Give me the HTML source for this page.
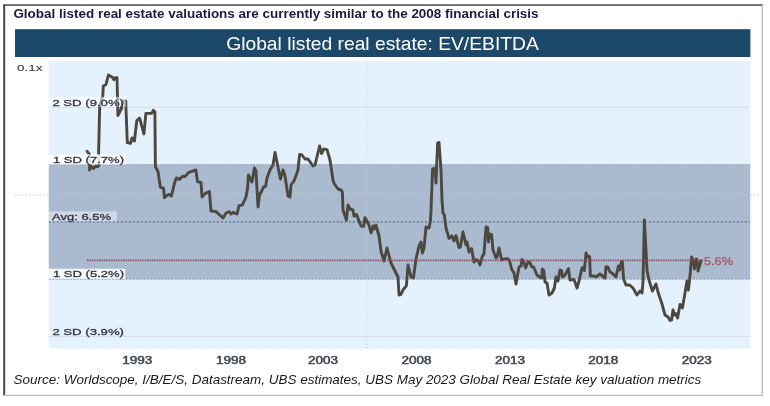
<!DOCTYPE html>
<html><head><meta charset="utf-8"><title>Global listed real estate: EV/EBITDA</title>
<style>
html,body{margin:0;padding:0;background:#fff;}
body{width:770px;height:406px;overflow:hidden;}
svg{display:block;}
text{font-family:"Liberation Sans",Arial,sans-serif;}
.lbl{font-size:9.7px;fill:#33343f;stroke:#33343f;stroke-width:0.3px;}
.yr{font-size:10px;fill:#454853;stroke:#454853;stroke-width:0.5px;}
</style></head><body>
<svg width="770" height="406" viewBox="0 0 770 406">
<rect width="770" height="406" fill="#fff"/>
<!-- frame -->
<rect x="3.5" y="4.3" width="759.5" height="1.6" fill="#555"/>
<rect x="3.2" y="4.3" width="2" height="391.7" fill="#4a4a4a"/>
<rect x="761.6" y="5" width="1.3" height="391" fill="#bcbcbc"/>
<rect x="3.5" y="394.7" width="759.4" height="1.3" fill="#bcbcbc"/>
<!-- title -->
<text x="13.4" y="17.9" font-size="13.3" font-weight="bold" fill="#1b1b3f" textLength="525.2" lengthAdjust="spacingAndGlyphs">Global listed real estate valuations are currently similar to the 2008 financial crisis</text>
<!-- banner -->
<rect x="15" y="29.2" width="735.4" height="27.8" fill="#1c4869"/>
<text x="226.2" y="49.9" font-size="18.2" fill="#fff" textLength="312.6" lengthAdjust="spacingAndGlyphs">Global listed real estate: EV/EBITDA</text>
<!-- plot -->
<rect x="48.8" y="61.2" width="701.4" height="287.4" fill="#e6f1fe"/>
<rect x="48.8" y="164.6" width="701.4" height="114.6" fill="#aabbcf"/>
<line x1="48.8" x2="749.8" y1="107.2" y2="107.2" stroke="#d0ddec" stroke-width="1"/>
<line x1="48.8" x2="749.8" y1="336.4" y2="336.4" stroke="#d0ddec" stroke-width="1"/>
<line x1="48.8" x2="750.2" y1="164.7" y2="164.7" stroke="#90a4bd" stroke-width="1" stroke-dasharray="2 1"/>
<line x1="48.8" x2="749.8" y1="279.2" y2="279.2" stroke="#8fa3bb" stroke-width="1" stroke-dasharray="2 1.5"/>
<!-- crosshair -->
<line x1="15" x2="760" y1="195" y2="195" stroke="#c2c6cc" stroke-width="1" stroke-dasharray="1.5 2"/>
<line x1="366.6" x2="366.6" y1="60" y2="350" stroke="#c2c6cc" stroke-width="1" stroke-dasharray="1.5 2" opacity="0.7"/>
<!-- avg -->
<line x1="48.8" x2="749.8" y1="221.9" y2="221.9" stroke="#5d6b7e" stroke-width="1.1" stroke-dasharray="2 2"/>
<!-- series -->
<polyline fill="none" stroke="#4c473f" stroke-width="2.9" stroke-linejoin="round" stroke-linecap="round" points="87.1,151.4 89.5,154.2 89.8,162 89.5,170 91,166 93.4,168.4 95.8,166 97.7,166.8 98.9,165.2 98.6,152.8 99.7,106.3 102.8,96 103.3,86 106,84.4 108.4,75 112.3,77.3 113.9,79.7 115,77.7 117,77.7 117.9,115.5 121.8,108 122.6,101 125.7,101 127.3,142.6 130.5,143.4 132,137.9 134.4,141 136.8,120.5 139.6,118.1 143.9,133.9 145.9,113.4 151.8,113.4 153.3,110.3 154.9,111.8 155.4,166.8 158,171.5 160.4,187.3 163.6,188.1 164.4,197.6 166,196 169.1,194.4 171.5,196 174.6,182.6 176.5,177.9 179.4,179.4 182.5,176.3 184.9,176.6 188.8,172.3 195.9,170 197.5,181.8 201,182.4 202,197 205,193.6 209.4,191.6 211,211 216,211.6 223,218 226,213 229,211.6 231,214 233,212.4 237,214 239,205.6 242.4,205 246,197 247.6,188 248.4,175 252,182 254.4,168 256,171 258,207 259.6,195 263.6,187 265.6,186.4 267,178 270,170 273,165 275,152.4 278,167 280.4,179 283,170 285,176 288,196 290,197 291,185 294,181 298,170 299.6,154.4 302,155 305,159 308,159 313,166 315,165 319.6,146 321.6,153.6 323.6,149 327,149.6 330,160 333,180 334.4,184 338,189 341,190 342.4,192 343,210 346.4,220 348,205 350,209 353,210 354,216 356.4,214.4 361,226 363.6,226.4 365,217.6 369,225 371,233 373,226 374,229 376,225 379,236 381,251 384,261 387,248 391,263 394,269 398,277 399,295 401,294.4 403,290 406.4,285.6 408,265 411,277 413.4,278 416,259 419,246 421,242 422.4,253 424,248 426,227 429,228 430.4,221 431,211 432.6,169 435,168.4 436,183 437.6,143 439,142.4 441,170 442,200 443,213 444.4,215 446,228 449,238.4 452,236 454,241 456,235.6 459,247.6 460.4,247 463,232 466,245 467,242 469,252 471.6,248.6 474,262 476.4,259.6 478.4,261 480,265 482.4,256 484,254 486,227 487.6,227.4 488.4,242 489.6,234 491.6,234.6 493,250 496,258 497,257 499,248 501.6,260 504,259 508,258.6 509.6,261 511.6,269 514,273 516,284 519,267 521,266 522,259.4 524,263 525.6,268 528,262 530,262.6 531.6,266.6 533.6,267 537,275 540,277.4 541.6,278 542.4,269 543.6,270 545,282 547,283 549,295 552,293 554.4,288 556,277 558,281 560,270 561.6,270.6 562.4,277 565,275 568.4,268.6 570,280 574,279.4 577,288 579,281 582,268 583.6,267 584.4,270.6 586,253 588,257 589.6,256.6 590.4,276 594,276 596,277 600,274 605,278 606,266.6 608,267.4 610,272 612,273 616,277 618.4,266 619.6,270 621.6,261.4 622.4,262 623.6,279 626,285 629.6,285 633,288 637,295 640,291 642,293 643,282 644.4,220 646,250 647,270 649,280 652.4,291 656,284 658,292 662,304 665,315 668,317 670,320.4 671.6,320 673,310 674.4,315 676,313.6 677.6,318 680,304.4 682.4,308 685,293 687,281 688.4,290 690,276 691.6,257 693.6,262 694.4,269 696,259 697,259.6 698,271 701,261"/>
<!-- red line -->
<line x1="87" x2="703" y1="260.4" y2="260.4" stroke="#8f4853" stroke-width="1.6" stroke-dasharray="1.6 0.8" opacity="0.9"/>
<text x="704" y="265.4" font-size="10" fill="#b0505f" stroke="#b0505f" stroke-width="0.25" textLength="29" lengthAdjust="spacingAndGlyphs">5.6%</text>
<!-- labels -->
<text class="lbl" style="stroke-width:0.1px;fill:#40424c" x="17" y="70.9" textLength="25.5" lengthAdjust="spacingAndGlyphs">0.1x</text>
<rect x="48.8" y="96.8" width="77" height="10" fill="#fff" opacity="0.55"/>
<text class="lbl" x="52.4" y="105.6" textLength="71.6" lengthAdjust="spacingAndGlyphs">2 SD (9.0%)</text>
<rect x="48.8" y="154.4" width="76.4" height="10" fill="#fff" opacity="0.85"/>
<text class="lbl" x="53" y="162.6" textLength="71" lengthAdjust="spacingAndGlyphs">1 SD (7.7%)</text>
<rect x="48.8" y="211.4" width="68" height="10" fill="#fff" opacity="0.45"/>
<text class="lbl" x="52" y="219.8" textLength="59" lengthAdjust="spacingAndGlyphs">Avg: 6.5%</text>
<rect x="48.8" y="268.8" width="76.4" height="10" fill="#fff" opacity="0.9"/>
<text class="lbl" x="53" y="277.2" textLength="71" lengthAdjust="spacingAndGlyphs">1 SD (5.2%)</text>
<text class="lbl" x="52.4" y="334.6" textLength="71.6" lengthAdjust="spacingAndGlyphs">2 SD (3.9%)</text>
<!-- x axis -->
<rect x="62.2" y="348.8" width="1" height="2.6" fill="#ebeef2"/><rect x="80.9" y="348.8" width="1" height="2.6" fill="#ebeef2"/><rect x="99.5" y="348.8" width="1" height="2.6" fill="#ebeef2"/><rect x="118.2" y="348.8" width="1" height="2.6" fill="#ebeef2"/><rect x="136.8" y="348.8" width="1" height="2.6" fill="#ebeef2"/><rect x="155.5" y="348.8" width="1" height="2.6" fill="#ebeef2"/><rect x="174.1" y="348.8" width="1" height="2.6" fill="#ebeef2"/><rect x="192.8" y="348.8" width="1" height="2.6" fill="#ebeef2"/><rect x="211.4" y="348.8" width="1" height="2.6" fill="#ebeef2"/><rect x="230.1" y="348.8" width="1" height="2.6" fill="#ebeef2"/><rect x="248.7" y="348.8" width="1" height="2.6" fill="#ebeef2"/><rect x="267.4" y="348.8" width="1" height="2.6" fill="#ebeef2"/><rect x="286.0" y="348.8" width="1" height="2.6" fill="#ebeef2"/><rect x="304.6" y="348.8" width="1" height="2.6" fill="#ebeef2"/><rect x="323.3" y="348.8" width="1" height="2.6" fill="#ebeef2"/><rect x="341.9" y="348.8" width="1" height="2.6" fill="#ebeef2"/><rect x="360.6" y="348.8" width="1" height="2.6" fill="#ebeef2"/><rect x="379.2" y="348.8" width="1" height="2.6" fill="#ebeef2"/><rect x="397.9" y="348.8" width="1" height="2.6" fill="#ebeef2"/><rect x="416.6" y="348.8" width="1" height="2.6" fill="#ebeef2"/><rect x="435.2" y="348.8" width="1" height="2.6" fill="#ebeef2"/><rect x="453.8" y="348.8" width="1" height="2.6" fill="#ebeef2"/><rect x="472.5" y="348.8" width="1" height="2.6" fill="#ebeef2"/><rect x="491.1" y="348.8" width="1" height="2.6" fill="#ebeef2"/><rect x="509.8" y="348.8" width="1" height="2.6" fill="#ebeef2"/><rect x="528.5" y="348.8" width="1" height="2.6" fill="#ebeef2"/><rect x="547.1" y="348.8" width="1" height="2.6" fill="#ebeef2"/><rect x="565.8" y="348.8" width="1" height="2.6" fill="#ebeef2"/><rect x="584.4" y="348.8" width="1" height="2.6" fill="#ebeef2"/><rect x="603.0" y="348.8" width="1" height="2.6" fill="#ebeef2"/><rect x="621.7" y="348.8" width="1" height="2.6" fill="#ebeef2"/><rect x="640.3" y="348.8" width="1" height="2.6" fill="#ebeef2"/><rect x="659.0" y="348.8" width="1" height="2.6" fill="#ebeef2"/><rect x="677.6" y="348.8" width="1" height="2.6" fill="#ebeef2"/><rect x="696.3" y="348.8" width="1" height="2.6" fill="#ebeef2"/><rect x="715.0" y="348.8" width="1" height="2.6" fill="#ebeef2"/><rect x="733.6" y="348.8" width="1" height="2.6" fill="#ebeef2"/>
<g class="yr">
<text x="122.3" y="363.6" textLength="30" lengthAdjust="spacingAndGlyphs">1993</text>
<text x="216.0" y="363.6" textLength="30" lengthAdjust="spacingAndGlyphs">1998</text>
<text x="308.0" y="363.6" textLength="30" lengthAdjust="spacingAndGlyphs">2003</text>
<text x="401.6" y="363.6" textLength="30" lengthAdjust="spacingAndGlyphs">2008</text>
<text x="495.0" y="363.6" textLength="30" lengthAdjust="spacingAndGlyphs">2013</text>
<text x="588.3" y="363.6" textLength="30" lengthAdjust="spacingAndGlyphs">2018</text>
<text x="681.8" y="363.6" textLength="30" lengthAdjust="spacingAndGlyphs">2023</text>
</g>
<!-- source -->
<text x="13.6" y="384" font-size="13.4" font-style="italic" fill="#1a1a1a" textLength="687.7" lengthAdjust="spacingAndGlyphs">Source: Worldscope, I/B/E/S, Datastream, UBS estimates, UBS May 2023 Global Real Estate key valuation metrics</text>
</svg>
</body></html>
